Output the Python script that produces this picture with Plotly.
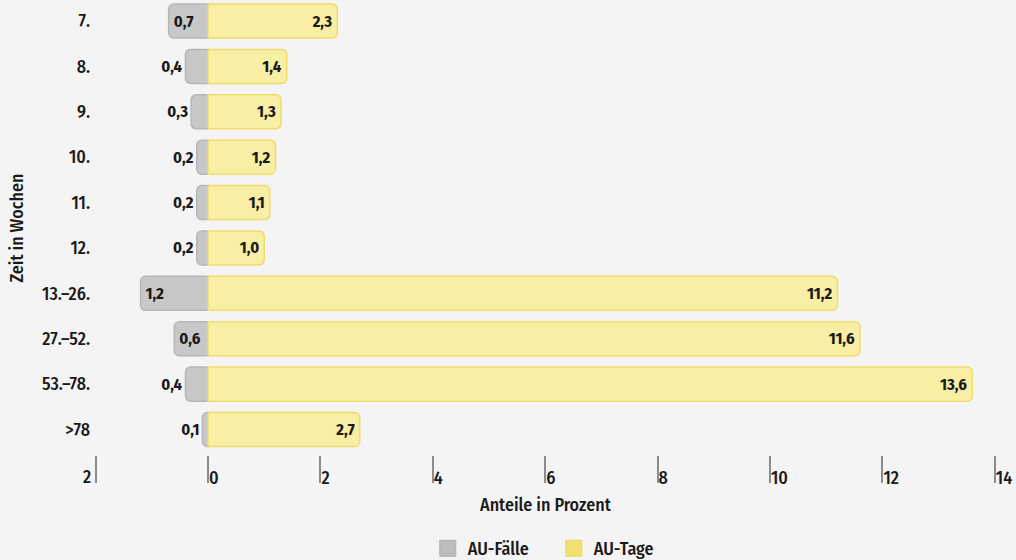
import plotly.graph_objects as go

# Duration classes (weeks) and shares in percent
kategorien = ["7.", "8.", "9.", "10.", "11.", "12.", "13.–26.", "27.–52.", "53.–78.", ">78"]
au_faelle = [0.7, 0.4, 0.3, 0.2, 0.2, 0.2, 1.2, 0.6, 0.4, 0.1]
au_tage = [2.3, 1.4, 1.3, 1.2, 1.1, 1.0, 11.2, 11.6, 13.6, 2.7]
faelle_lage = ["inside", "outside", "outside", "outside", "outside",
               "outside", "inside", "inside", "outside", "outside"]
x_ticks = [-2, 0, 2, 4, 6, 8, 10, 12, 14]

FONT = "Fira Sans Condensed, Liberation Sans Narrow, DejaVu Sans Condensed, Roboto, sans-serif"
BG = "#f4f4f4"
TXT = "#1a1a1a"
LBL_WEIGHT = 500

W, H = 1016, 560
ML, MR, MT, MB = 94, 16, 0, 105
PX_PER_UNIT = 56.2
ZERO_PX = 208
x_lo = (ML - ZERO_PX) / PX_PER_UNIT
x_hi = (W - MR - ZERO_PX) / PX_PER_UNIT


def de(v):
    return f"{v:.1f}".replace(".", ",")


fig = go.Figure()

fig.add_trace(go.Bar(
    y=kategorien, x=[-v for v in au_faelle], orientation="h",
    name="AU-Fälle", showlegend=False, width=0.75,
    marker=dict(color="#c8c8c8", line=dict(color="#b6b6b6", width=1.5), cornerradius=5),
    text=[de(v) for v in au_faelle], textposition=faelle_lage,
    insidetextanchor="end", constraintext="none", cliponaxis=False,
    textfont=dict(family=FONT, size=16.5, color=TXT, weight="bold"),
))
fig.add_trace(go.Bar(
    y=kategorien, x=au_tage, orientation="h",
    name="AU-Tage", showlegend=False, width=0.75,
    marker=dict(color="#f8eea4", line=dict(color="#f0dc6c", width=1.5), cornerradius=5),
    text=[de(v) for v in au_tage], textposition="inside",
    insidetextanchor="end", constraintext="none",
    textfont=dict(family=FONT, size=16.5, color=TXT, weight="bold"),
))

# legend entries
fig.add_trace(go.Scatter(x=[None], y=[None], mode="markers", name="AU-Fälle",
                         marker=dict(symbol="square", size=16, color="#bdbdbd",
                                     line=dict(color="#b0b0b0", width=1))))
fig.add_trace(go.Scatter(x=[None], y=[None], mode="markers", name="AU-Tage",
                         marker=dict(symbol="square", size=16, color="#f2e070",
                                     line=dict(color="#ecd85e", width=1))))

tick_text = ["" if t < 0 else str(abs(t)) for t in x_ticks]

fig.update_layout(
    width=W, height=H,
    margin=dict(l=ML, r=MR, t=MT, b=MB, pad=0, autoexpand=False),
    paper_bgcolor=BG, plot_bgcolor=BG,
    barmode="overlay",
    font=dict(family=FONT, size=16, color=TXT),
    xaxis=dict(range=[x_lo, x_hi], tickvals=x_ticks, ticktext=tick_text,
               showgrid=False, zeroline=False, showline=False,
               ticks="outside", ticklen=27, tickwidth=2, tickcolor="#8c8c8c",
               ticklabelposition="outside right", ticklabelstandoff=6,
               tickfont=dict(family=FONT, size=18, color=TXT, weight=LBL_WEIGHT)),
    yaxis=dict(categoryorder="array", categoryarray=kategorien,
               range=[9.562, -0.463], showgrid=False, zeroline=False,
               showline=False, ticks="", ticklabelstandoff=3,
               tickfont=dict(family=FONT, size=18, color=TXT, weight=LBL_WEIGHT)),
    legend=dict(orientation="h", x=0.5075, xanchor="center", y=-0.165, yanchor="top",
                entrywidth=81, entrywidthmode="pixels",
                font=dict(family=FONT, size=18, color=TXT, weight=LBL_WEIGHT),
                bgcolor="rgba(0,0,0,0)"),
    showlegend=True,
)

# label for the negative tick, placed left of its line
fig.add_annotation(x=-2, y=0, xref="x", yref="paper", text="2", showarrow=False,
                   xanchor="right", yanchor="top", xshift=-3, yshift=-9,
                   font=dict(family=FONT, size=18, color=TXT, weight=LBL_WEIGHT))

fig.add_annotation(x=6, y=0, xref="x", yref="paper", text="Anteile in Prozent",
                   showarrow=False, xanchor="center", yanchor="middle", yshift=-50,
                   font=dict(family=FONT, size=18, color=TXT, weight=LBL_WEIGHT))
fig.add_annotation(x=-0.085, y=0.5, xref="paper", yref="paper", text="Zeit in Wochen",
                   showarrow=False, textangle=-90, xanchor="center", yanchor="middle",
                   font=dict(family=FONT, size=18, color=TXT, weight=LBL_WEIGHT))

fig.write_html("out.html")
